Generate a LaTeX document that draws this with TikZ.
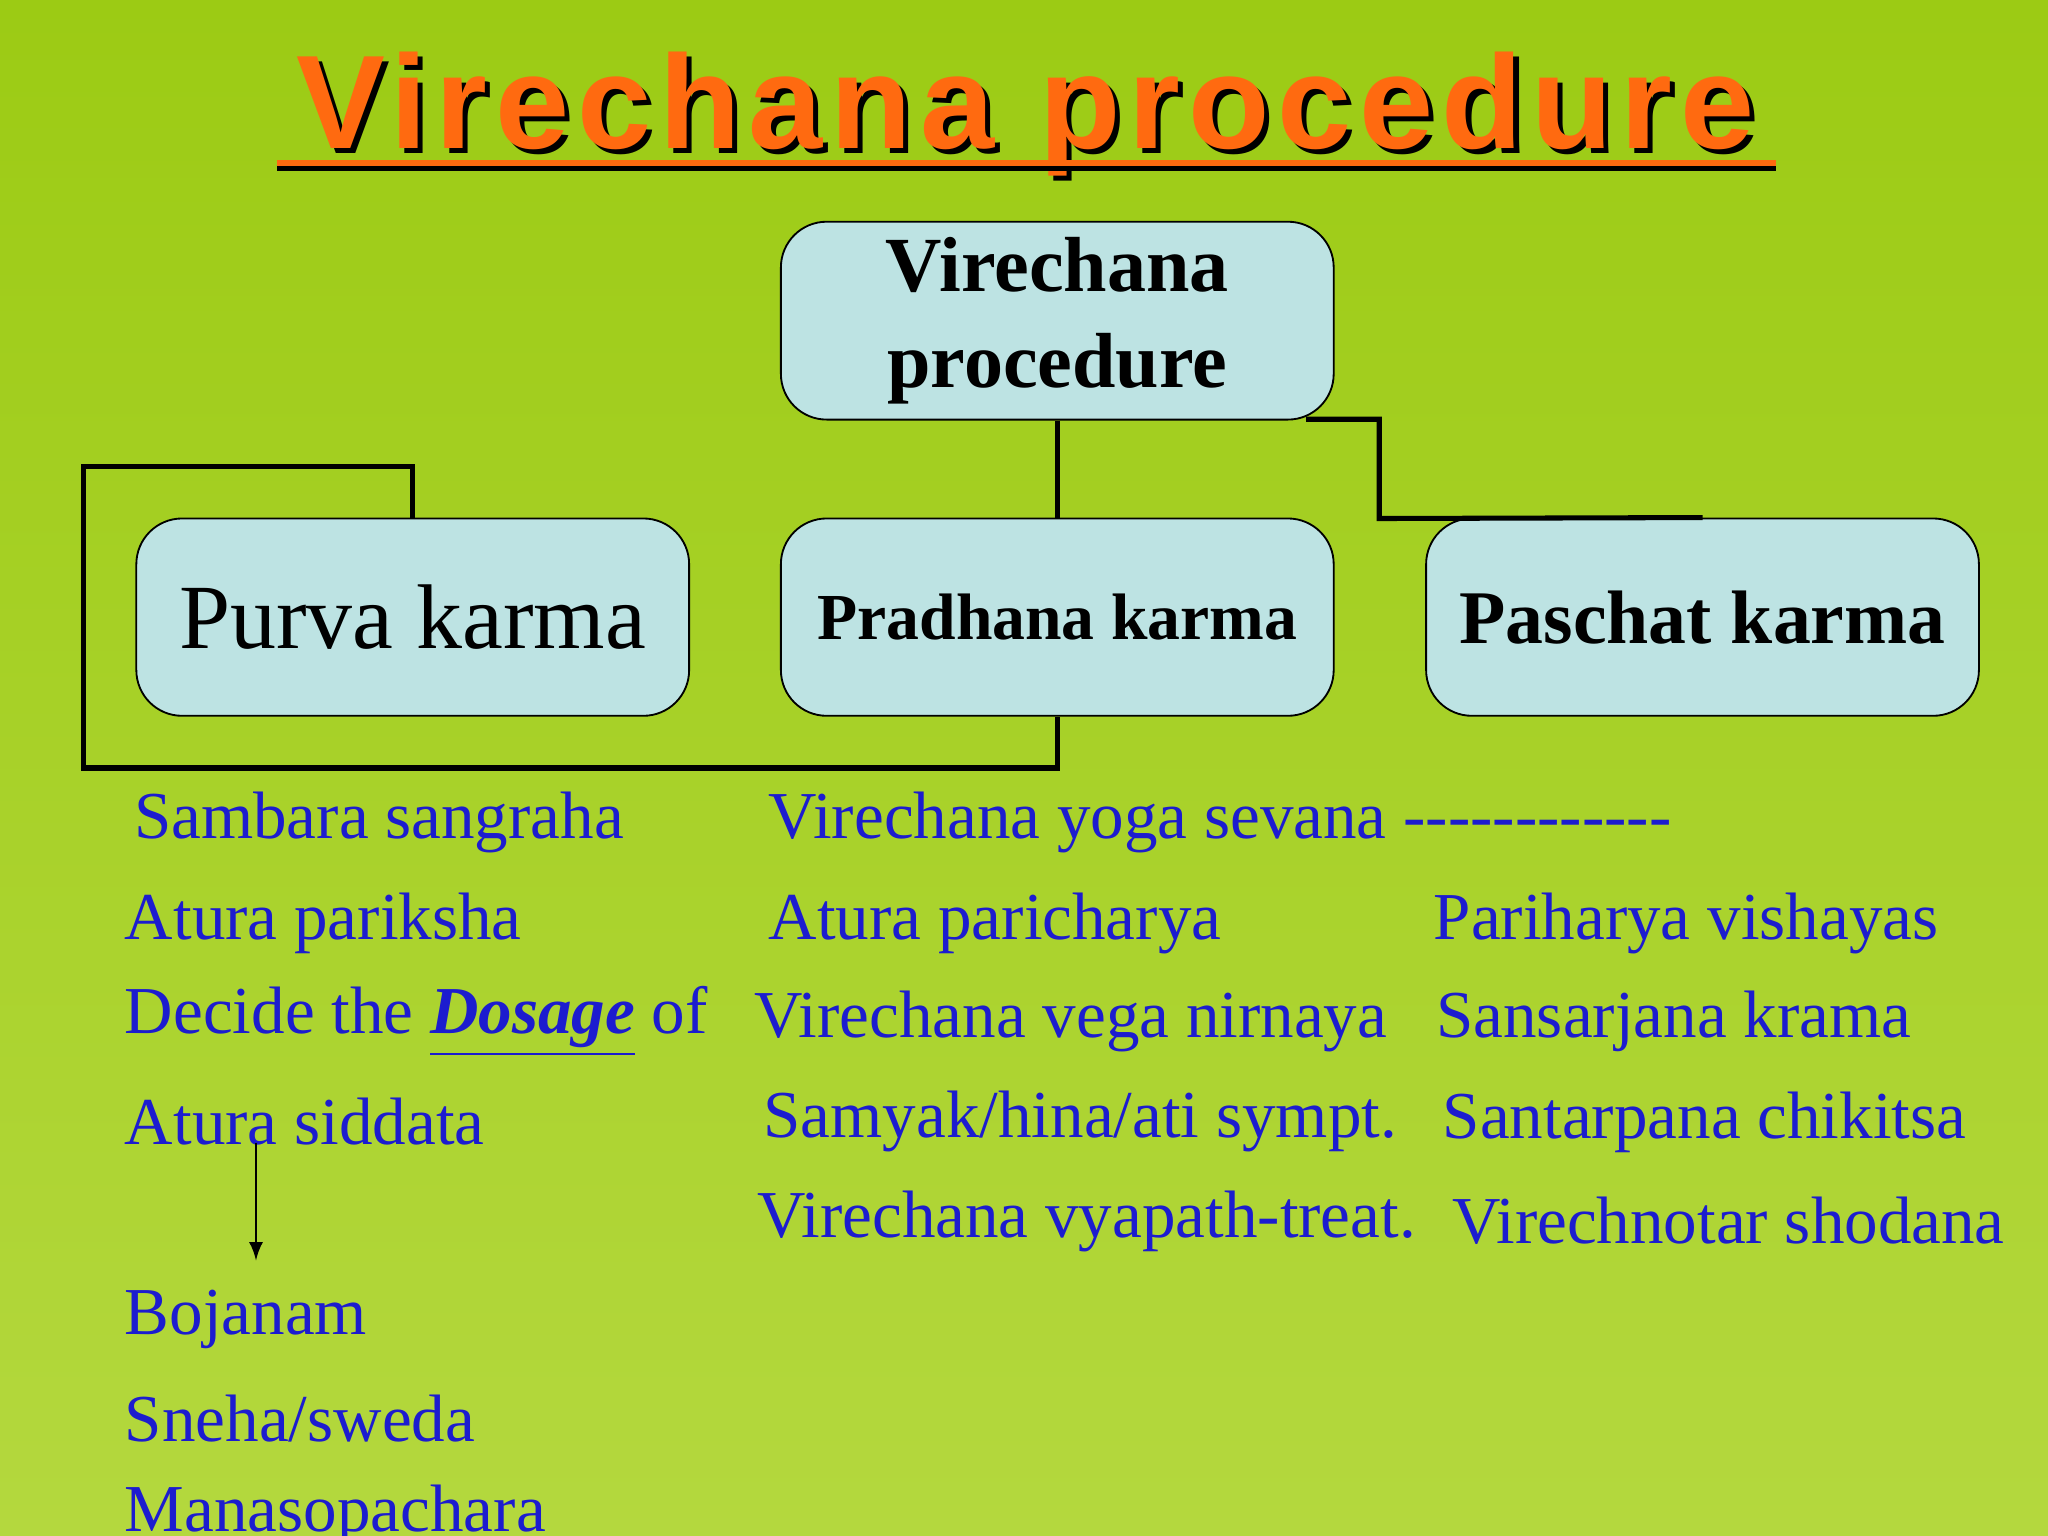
\documentclass[tikz,border=0pt]{standalone}
\usepackage{fontspec}
\setmainfont{Liberation Serif}
\newfontfamily\titlefont[LetterSpace=6]{Liberation Sans}
\definecolor{bgA}{HTML}{9CCB14}
\definecolor{bgB}{HTML}{B4D83E}
\definecolor{boxfill}{HTML}{BDE3E3}
\definecolor{txtblue}{HTML}{1C1CCF}
\definecolor{ttl}{HTML}{FF6A10}
\tikzset{
 box/.style={draw=black, thin, rounded corners=0.35cm, fill=boxfill, minimum width=4.23cm, minimum height=1.51cm, align=center},
 conn/.style={draw=black, line width=1.1pt},
 item/.style={anchor=west, text=txtblue, font=\fontsize{14.6}{16}\selectfont, inner sep=0pt}
}
\begin{document}
\begin{tikzpicture}[x=0.01cm,y=-0.01cm]
\useasboundingbox (0,0) rectangle (1568,1176);
\shade[left color=bgA, right color=bgB, shading angle=0] (0,0) rectangle (1568,1176);
% title
\node[text=black, font=\titlefont\bfseries\fontsize{29}{32}\selectfont] at (789,91) {Virechana procedure};
\node (title) [text=ttl, font=\titlefont\bfseries\fontsize{29}{32}\selectfont] at (785,87) {Virechana procedure};
\draw[black, line width=1.3pt] (212,129) -- (1360,129);
\draw[ttl, line width=1.3pt] (212,125) -- (1360,125);
% boxes
\node (top) [box, font=\bfseries\fontsize{17}{21}\selectfont] at (809.5,245.5) {Virechana\\procedure};
\node (purva) [box, font=\fontsize{20}{24}\selectfont] at (316,472.5) {Purva karma};
\node (pradh) [box, font=\bfseries\fontsize{14.3}{16}\selectfont] at (809.5,472.5) {Pradhana karma};
\node (pasch) [box, font=\bfseries\fontsize{16.5}{19}\selectfont] at (1303.5,472.5) {Paschat karma};
% connectors
\draw[conn] (top.south) -- (pradh.north);
\draw[conn] (1000,321) -- (1056,321) -- (1056,397) -- (pasch.north);
\draw[conn] (purva.north) -- (316,357) -- (64,357) -- (64,588) -- (809.5,588) -- (pradh.south);
% left column
\node[item] (l1) at (102,630) {Sambara sangraha};
\node[item] (l2) at (95,707) {Atura pariksha};
\node[item] (l3) at (95,782) {Decide the \textbf{\textit{\underline{Dosage}}} of};
\node[item] (l4) at (95,859) {Atura siddata};
\node[item] (l5) at (95,1010) {Bojanam};
\node[item] (l6) at (95,1086) {Sneha/sweda};
\node[item] (l7) at (95,1160) {Manasopachara};
\draw[-latex, thin] (196,875) -- (196,965);
% middle column
\node[item] (m1) at (588,630) {Virechana yoga sevana {-}{-}{-}{-}{-}{-}{-}{-}{-}{-}{-}{-}};
\node[item] (m2) at (588,707) {Atura paricharya};
\node[item] (m3) at (577,782) {Virechana vega nirnaya};
\node[item] (m4) at (584,859) {Samyak/hina/ati sympt.};
\node[item] (m5) at (579,935) {Virechana vyapath-treat.};
% right column
\node[item] (r2) at (1097,707) {Pariharya vishayas};
\node[item] (r3) at (1099,782) {Sansarjana krama};
\node[item] (r4) at (1104,859) {Santarpana chikitsa};
\node[item] (r5) at (1111,935) {Virechnotar shodana};
\end{tikzpicture}
\end{document}
